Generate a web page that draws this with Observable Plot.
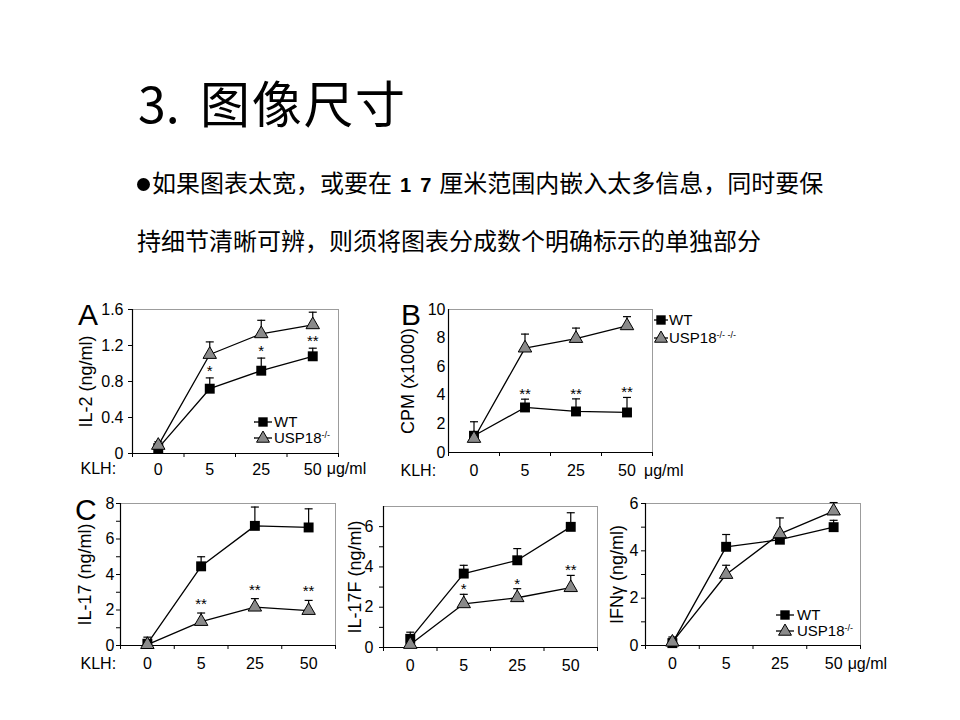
<!DOCTYPE html>
<html><head><meta charset="utf-8">
<script src="https://cdn.jsdelivr.net/npm/d3@7"></script>
<script src="https://cdn.jsdelivr.net/npm/@observablehq/plot@0.6"></script>
<style>
body{margin:0;background:#fff;}
#page{position:relative;width:960px;height:720px;overflow:hidden;background:#fff;font-family:"Liberation Sans",Arial,sans-serif;color:#000;}
.abs{position:absolute;}
.cjk{font-family:"Noto Sans CJK SC",sans-serif;line-height:1;white-space:nowrap;}
.letter{font-size:30px;line-height:1;}
.legend{position:absolute;font-size:15px;line-height:16px;}
.legend .row{display:flex;align-items:center;height:16px;}
.legend sup{font-size:9px;vertical-align:5px;line-height:0;}
.bullet{display:inline-block;width:13px;height:13px;border-radius:50%;background:#000;margin-right:2px;vertical-align:1px;}
.num{display:inline-block;font-family:"Liberation Sans",Arial,sans-serif;font-weight:bold;font-size:20px;}
.plotbox{position:absolute;}
.plotbox svg{overflow:visible;}
</style></head><body><div id="page"></div>
<script>
// ---------- data ----------
const doses = ["0", "5", "25", "50"];
const idx = [0, 1, 2, 3];

// A: IL-2 (ng/ml)
const aWT = [0.06, 0.72, 0.92, 1.08];
const aWTerr = [0.10, 0.84, 1.06, 1.17];
const aKO = [0.09, 1.10, 1.33, 1.43];
const aKOerr = [0.13, 1.24, 1.48, 1.57];
const aSig = ["", "*", "*", "**"];

// B: CPM (x1000)
const bWT = [1.17, 3.15, 2.87, 2.80];
const bWTerr = [2.15, 3.73, 3.75, 3.85];
const bKO = [0.98, 7.30, 7.97, 8.86];
const bKOerr = [1.45, 8.28, 8.70, 9.50];
const bSig = ["", "**", "**", "**"];

// C1: IL-17 (ng/ml)
const c1WT = [0.10, 4.46, 6.74, 6.65];
const c1WTerr = [0.47, 5.00, 7.80, 7.70];
const c1KO = [0.05, 1.35, 2.16, 1.97];
const c1KOerr = [0.10, 1.83, 2.64, 2.54];
const c1Sig = ["", "**", "**", "**"];

// C2: IL-17F (ng/ml)
const c2WT = [0.43, 3.67, 4.33, 5.99];
const c2WTerr = [0.76, 4.08, 4.91, 6.69];
const c2KO = [0.15, 2.17, 2.47, 2.97];
const c2KOerr = [0.20, 2.64, 2.92, 3.58];
const c2Sig = ["", "*", "*", "**"];

// C3: IFNγ (ng/ml)
const c3WT = [0.10, 4.17, 4.47, 5.00];
const c3WTerr = [0.30, 4.69, 4.60, 5.29];
const c3KO = [0.14, 3.00, 4.72, 5.68];
const c3KOerr = [0.36, 3.39, 5.39, 6.04];
const c3Sig = ["", "", "", ""];

// ---------- helpers ----------
const page = document.getElementById("page");
const cap = {draw(ctx, size) { const w = Math.sqrt(size / Math.PI); ctx.moveTo(-w, 0); ctx.lineTo(w, 0); }};
const xBounds = [-0.5, 0.5, 1.5, 2.5, 3.5];

function panel(o) {
  const rows = idx.map(i => ({
    i, wt: o.wt[i], wtErr: o.wtErr[i], ko: o.ko[i], koErr: o.koErr[i], sig: o.sig[i],
    sigY: o.sigOn === "wt" ? o.wtErr[i] : o.koErr[i]
  }));
  const marks = [
    Plot.frame({stroke: "#9c9c9c", strokeWidth: 1}),
    Plot.ruleX([xBounds[0]], {stroke: "#000", strokeWidth: 1.2}),
    Plot.ruleY([o.yDomain[0]], {stroke: "#000", strokeWidth: 1.2}),
    Plot.axisY({ticks: o.yTicks, tickSize: o.yTickSize, tickPadding: o.yPad, tickFormat: o.yFormat, label: null, fontSize: 16}),
    Plot.axisX({ticks: xBounds, tickSize: 4, tickFormat: () => "", label: null}),
    Plot.axisX({ticks: idx, tickSize: 0, tickPadding: o.xPad, tickFormat: i => doses[i], label: null, fontSize: 16}),
    Plot.text([o.ylabel], {text: d => d, frameAnchor: "left", textAnchor: "middle", lineAnchor: "middle", rotate: -90, dx: o.ylabelDx, fontSize: 18}),
    Plot.line(rows, {x: "i", y: "wt", stroke: "#000", strokeWidth: 1.3}),
    Plot.line(rows, {x: "i", y: "ko", stroke: "#000", strokeWidth: 1.3}),
    Plot.ruleX(rows, {x: "i", y1: "wt", y2: "wtErr", stroke: "#000", strokeWidth: 1.2}),
    Plot.dot(rows, {x: "i", y: "wtErr", symbol: cap, r: 4, fill: "none", stroke: "#000", strokeWidth: 1.2}),
    Plot.ruleX(rows, {x: "i", y1: "ko", y2: "koErr", stroke: "#000", strokeWidth: 1.2}),
    Plot.dot(rows, {x: "i", y: "koErr", symbol: cap, r: 4, fill: "none", stroke: "#000", strokeWidth: 1.2}),
    Plot.dot(rows, {x: "i", y: "wt", symbol: "square", r: 5.6, fill: "#000", stroke: "none"}),
    Plot.dot(rows, {x: "i", y: "ko", symbol: "triangle", r: 5, fill: "#8a8a8a", stroke: "#000", strokeWidth: 1}),
    Plot.text(rows, {x: "i", y: "sigY", text: "sig", lineAnchor: "bottom", dy: o.sigDy, fontSize: 15})
  ];
  if (o.yMinor) marks.push(Plot.axisY({ticks: o.yMinor, tickSize: 4, tickFormat: () => "", label: null}));
  if (o.klh) marks.push(Plot.text(["KLH:"], {text: d => d, frameAnchor: "bottom-left", textAnchor: "start", lineAnchor: "middle", dx: o.klhDx, dy: o.labelCy, fontSize: 16}));
  if (o.unit) marks.push(Plot.text([3], {x: d => d, frameAnchor: "bottom", text: () => "\u03bcg/ml", textAnchor: "start", lineAnchor: "middle", dx: o.unitDx, dy: o.labelCy, fontSize: 16}));
  const svg = Plot.plot({
    width: o.width, height: o.height,
    marginLeft: o.ml, marginRight: o.mr, marginTop: o.mt, marginBottom: o.mb,
    style: {fontFamily: "Liberation Sans, Arial, sans-serif", fontSize: "16px", color: "#000", background: "transparent", overflow: "visible"},
    x: {type: "linear", domain: [xBounds[0], xBounds[4]], label: null},
    y: {domain: o.yDomain, label: null},
    marks
  });
  const box = document.createElement("div");
  box.className = "plotbox";
  box.style.left = o.left + "px";
  box.style.top = o.top + "px";
  box.appendChild(svg);
  page.appendChild(box);
}

function addHTML(html) { page.insertAdjacentHTML("beforeend", html); }

// ---------- slide text ----------
addHTML(`<div class="abs cjk" style="left:138px;top:76px;font-size:50px;"><span style="display:inline-block;width:62px;">3.</span><span style="letter-spacing:1.7px;">图像尺寸</span></div>`);
addHTML(`<div class="abs cjk" style="left:137px;top:170px;font-size:24px;"><span class="bullet"></span>如果图表太宽，或要在<span class="num" style="margin-left:8px;">1</span><span class="num" style="margin-left:9px;margin-right:8px;">7</span><span>厘米范围内嵌入太多信息，同时要保</span></div>`);
addHTML(`<div class="abs cjk" style="left:137px;top:228px;font-size:24px;">持细节清晰可辨，则须将图表分成数个明确标示的单独部分</div>`);

// ---------- panels ----------
const fmt1 = d => d === 0 ? "0" : d.toFixed(1);
const fmt0 = d => String(d);

panel({left: 40, top: 290, width: 320, height: 210, ml: 92, mr: 22, mt: 19, mb: 47,
  wt: aWT, wtErr: aWTerr, ko: aKO, koErr: aKOerr, sig: aSig, sigOn: "wt", sigDy: -2,
  yDomain: [0, 1.6], yTicks: [0, 0.4, 0.8, 1.2, 1.6], yFormat: fmt1, yTickSize: 4, yPad: 5,
  ylabel: "IL-2 (ng/ml)", ylabelDx: -46, xPad: 10, labelCy: 15, klh: true, klhDx: -52, unit: true, unitDx: 14});

panel({left: 370, top: 290, width: 300, height: 210, ml: 78, mr: 18, mt: 19, mb: 48,
  wt: bWT, wtErr: bWTerr, ko: bKO, koErr: bKOerr, sig: bSig, sigOn: "wt", sigDy: 0,
  yDomain: [0, 10], yTicks: [0, 2, 4, 6, 8, 10], yFormat: fmt0, yTickSize: 0, yPad: 3,
  ylabel: "CPM (x1000)", ylabelDx: -40, xPad: 12, labelCy: 18, klh: true, klhDx: -48, unit: true, unitDx: 17});

panel({left: 40, top: 485, width: 310, height: 215, ml: 80, mr: 15, mt: 18, mb: 55,
  wt: c1WT, wtErr: c1WTerr, ko: c1KO, koErr: c1KOerr, sig: c1Sig, sigOn: "ko", sigDy: -4,
  yDomain: [0, 8], yTicks: [0, 2, 4, 6, 8], yMinor: [1, 3, 5, 7], yFormat: fmt0, yTickSize: 4, yPad: 2,
  ylabel: "IL-17 (ng/ml)", ylabelDx: -35, xPad: 12, labelCy: 18, klh: true, klhDx: -40, unit: false});

panel({left: 330, top: 485, width: 280, height: 215, ml: 53, mr: 13, mt: 21, mb: 53,
  wt: c2WT, wtErr: c2WTerr, ko: c2KO, koErr: c2KOerr, sig: c2Sig, sigOn: "ko", sigDy: 0,
  yDomain: [0, 7], yTicks: [0, 2, 4, 6], yMinor: [1, 3, 5], yFormat: fmt0, yTickSize: 4, yPad: 6,
  ylabel: "IL-17F (ng/ml)", ylabelDx: -28, xPad: 12, labelCy: 18, klh: false, unit: false});

panel({left: 600, top: 485, width: 320, height: 215, ml: 45, mr: 60, mt: 18, mb: 55,
  wt: c3WT, wtErr: c3WTerr, ko: c3KO, koErr: c3KOerr, sig: c3Sig, sigOn: "ko", sigDy: 0,
  yDomain: [0, 6], yTicks: [0, 2, 4, 6], yMinor: [1, 3, 5], yFormat: fmt0, yTickSize: 4, yPad: 3,
  ylabel: "IFN\u03b3 (ng/ml)", ylabelDx: -28, xPad: 12, labelCy: 18, klh: false, unit: true, unitDx: 14});

// ---------- panel letters ----------
addHTML(`<div class="abs letter" style="left:78px;top:300px;">A</div>`);
addHTML(`<div class="abs letter" style="left:401px;top:300px;">B</div>`);
addHTML(`<div class="abs letter" style="left:75px;top:495px;">C</div>`);

// ---------- legends ----------
function swatch(kind, w) {
  const c = w / 2;
  const line = `<line x1="0" y1="7" x2="${w}" y2="7" stroke="#000" stroke-width="1.3"/>`;
  const sym = kind === "wt"
    ? `<path d="${d3.symbol(d3.symbolSquare, 5.3 * 5.3 * Math.PI)()}" transform="translate(${c},7)" fill="#000"/>`
    : `<path d="${d3.symbol(d3.symbolTriangle, 4.8 * 4.8 * Math.PI)()}" transform="translate(${c},7.5)" fill="#8a8a8a" stroke="#000" stroke-width="1"/>`;
  return `<svg width="${w}" height="14" style="overflow:visible">${line}${sym}</svg>`;
}
function legend(left, top, rowH, w, gap, koSup) {
  addHTML(`<div class="legend" style="left:${left}px;top:${top}px;">
    <div class="row" style="height:${rowH}px">${swatch("wt", w)}<span style="margin-left:${gap}px">WT</span></div>
    <div class="row" style="height:${rowH}px">${swatch("ko", w)}<span style="margin-left:${gap}px">USP18<sup>${koSup}</sup></span></div>
  </div>`);
}
legend(254, 414, 16, 18, 2, "-/-");
legend(654, 311, 18, 14, 1, "-/- -/-");
legend(776, 607, 16, 18, 3, "-/-");
</script>
</body></html>
